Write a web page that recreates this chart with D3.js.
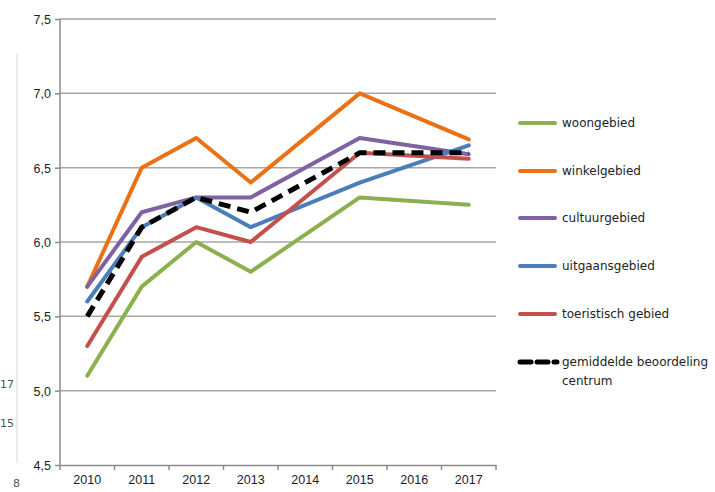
<!DOCTYPE html>
<html>
<head>
<meta charset="utf-8">
<script src="https://cdn.jsdelivr.net/npm/d3@7"></script>
<style>
  body { margin: 0; background: #fff; }
  svg { display: block; font-family: "DejaVu Sans", Verdana, sans-serif; }
</style>
</head>
<body>
<div id="chart-area"></div>
<script>

let width = 715,
height = 492;

// Data (2014 and 2016: no measurement, line connects across)
let years = ["2010", "2011", "2012", "2013", "2014", "2015", "2016", "2017"];
let woongebied    = [5.1, 5.7, 6.0, 5.8, null, 6.3, null, 6.25];
let winkelgebied  = [5.7, 6.5, 6.7, 6.4, null, 7.0, null, 6.69];
let cultuurgebied = [5.7, 6.2, 6.3, 6.3, null, 6.7, null, 6.59];
let uitgaansgebied = [5.6, 6.1, 6.3, 6.1, null, 6.4, null, 6.65];
let toeristisch   = [5.3, 5.9, 6.1, 6.0, null, 6.6, null, 6.56];
let gemiddelde    = [5.5, 6.1, 6.3, 6.2, null, 6.6, null, 6.6];
let yTicks = [4.5, 5.0, 5.5, 6.0, 6.5, 7.0, 7.5];

let series = [
	{name: ["woongebied"], values: woongebied, color: "#8cb04f"},
	{name: ["winkelgebied"], values: winkelgebied, color: "#ea7115"},
	{name: ["cultuurgebied"], values: cultuurgebied, color: "#7f62a1"},
	{name: ["uitgaansgebied"], values: uitgaansgebied, color: "#4a7ebb"},
	{name: ["toeristisch gebied"], values: toeristisch, color: "#c4504d"},
	{name: ["gemiddelde beoordeling", "centrum"], values: gemiddelde, color: "#000", dashed: true}
];

let svg = d3.select("#chart-area").append("svg")
	.attr("width", width)
	.attr("height", height);

let x = d3.scaleBand()
	.domain(years)
	.range([60, 496]);

let y = d3.scaleLinear()
	.domain([4.5, 7.5])
	.range([465, 19]);

let nl = d3.formatLocale({decimal: ",", thousands: ".", grouping: [3], currency: ["€", ""]});
let fmt = nl.format(".1f");

// stray bits from the neighbouring chart on the left
svg.append("line")
	.attr("x1", 17).attr("x2", 17)
	.attr("y1", 53).attr("y2", 463)
	.style("stroke", "#d9d9d9")
	.style("stroke-width", 1);
svg.selectAll(".stray")
	.data([{t: "17", x: 0, y: 388}, {t: "15", x: 0, y: 427}, {t: "8", x: 13, y: 487}])
	.enter().append("text")
	.attr("x", d => d.x)
	.attr("y", d => d.y)
	.style("font-size", "11px")
	.style("fill", "#555")
	.text(d => d.t);

// gridlines
svg.selectAll(".grid")
	.data(yTicks.slice(1))
	.enter().append("line")
	.attr("x1", 60).attr("x2", 496)
	.attr("y1", d => y(d)).attr("y2", d => y(d))
	.style("stroke", "#a6a6a6")
	.style("stroke-width", 1.5);

// y axis
let yAxis = d3.axisLeft(y)
	.tickValues(yTicks)
	.tickFormat(fmt)
	.tickSize(5)
	.tickPadding(4);
let gy = svg.append("g")
	.attr("transform", "translate(60,0)")
	.call(yAxis);
gy.select(".domain").style("stroke", "#8c8c8c").style("stroke-width", 1.5).attr("d", "M0," + y(4.5) + "V" + y(7.5));
gy.selectAll(".tick line").style("stroke", "#8c8c8c").style("stroke-width", 1.5);
gy.selectAll("text").style("font-size", "12.5px").style("fill", "#1c1c2c").attr("dy", "0.35em");

// x axis: labels at band centres, tick marks on band edges
let xAxis = d3.axisBottom(x)
	.tickSize(0)
	.tickPadding(10);
let gx = svg.append("g")
	.attr("transform", "translate(0," + y(4.5) + ")")
	.call(xAxis);
gx.select(".domain").style("stroke", "#8c8c8c").style("stroke-width", 1.5);
gx.selectAll("text").style("font-size", "12.5px").style("fill", "#1c1c2c");

let edges = years.map(d => x(d)).concat([x.range()[1]]);
svg.selectAll(".xtick")
	.data(edges)
	.enter().append("line")
	.attr("x1", d => d).attr("x2", d => d)
	.attr("y1", y(4.5)).attr("y2", y(4.5) + 5)
	.style("stroke", "#8c8c8c")
	.style("stroke-width", 1.5);

// lines
let line = d3.line()
	.x(d => x(d.year) + x.bandwidth() / 2)
	.y(d => y(d.value));

svg.selectAll(".serie")
	.data(series)
	.enter().append("path")
	.attr("class", "serie")
	.attr("d", d => line(years.map((yr, i) => ({year: yr, value: d.values[i]})).filter(p => p.value != null)))
	.style("fill", "none")
	.style("stroke", d => d.color)
	.style("stroke-width", d => d.dashed ? 5 : 4)
	.style("stroke-dasharray", d => d.dashed ? "12,7" : null)
	.style("stroke-linejoin", "round")
	.style("stroke-linecap", d => d.dashed ? "butt" : "round");

// legend
let legendY = [123, 171, 218, 266, 314, 362];
let legend = svg.selectAll(".legend")
	.data(series)
	.enter().append("g")
	.attr("transform", (d, i) => "translate(520," + legendY[i] + ")");

legend.append("line")
	.attr("x1", 0).attr("x2", d => d.dashed ? 37 : 35)
	.attr("y1", 0).attr("y2", 0)
	.style("stroke", d => d.color)
	.style("stroke-width", d => d.dashed ? 5 : 4)
	.style("stroke-dasharray", d => d.dashed ? "11,6" : null)
	.style("stroke-linecap", "round");

legend.each(function(d) {
	let t = d3.select(this).append("text")
		.attr("x", 42)
		.attr("y", 0)
		.style("font-size", "12px")
		.style("fill", "#222");
	d.name.forEach((n, i) => {
		t.append("tspan")
			.attr("x", 42)
			.attr("dy", i == 0 ? "0.35em" : "1.55em")
			.text(n);
	});
});

</script>
</body>
</html>
